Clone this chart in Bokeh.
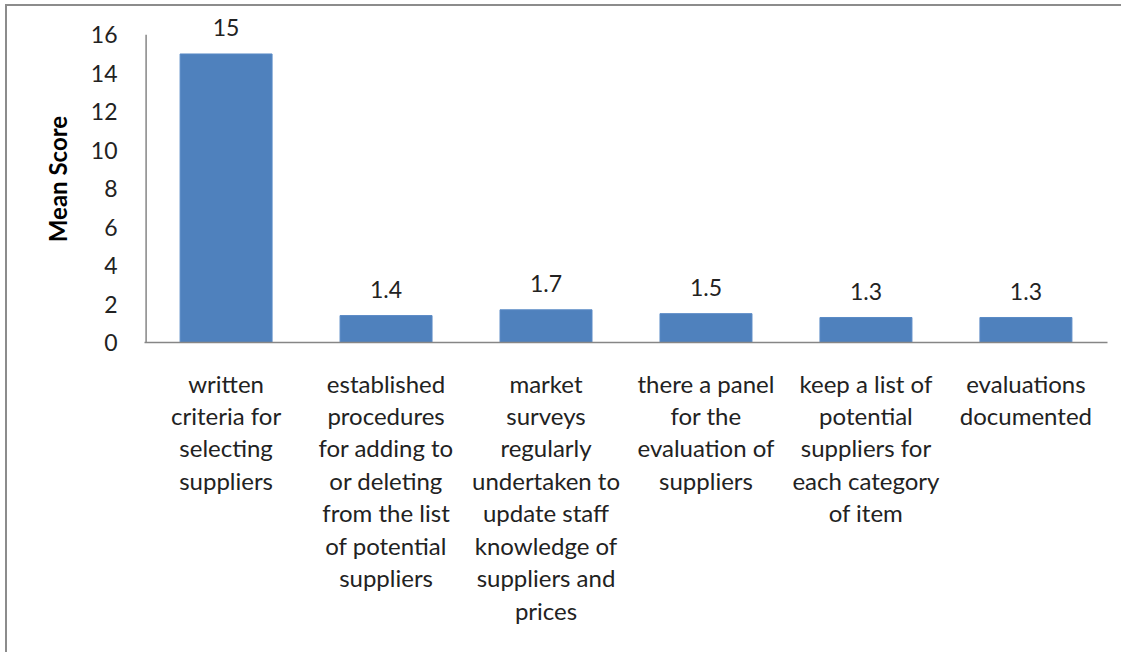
from bokeh.plotting import figure
from bokeh.models import ColumnDataSource, LabelSet, FactorRange, Range1d
from bokeh.core.properties import value
from bokeh.embed import file_html
from bokeh.resources import INLINE

categories = [
    "written\ncriteria for\nselecting\nsuppliers",
    "established\nprocedures\nfor adding to\nor deleting\nfrom the list\nof potential\nsuppliers",
    "market\nsurveys\nregularly\nundertaken to\nupdate staff\nknowledge of\nsuppliers and\nprices",
    "there a panel\nfor the\nevaluation of\nsuppliers",
    "keep a list of\npotential\nsuppliers for\neach category\nof item",
    "evaluations\ndocumented",
]
mean_scores = [15, 1.4, 1.7, 1.5, 1.3, 1.3]
value_labels = ["15", "1.4", "1.7", "1.5", "1.3", "1.3"]
y_ticks = [0, 2, 4, 6, 8, 10, 12, 14, 16]
y_max = 16

FONT = "Lato"
AXIS_GRAY = "#868686"

src = ColumnDataSource(dict(cat=categories, val=mean_scores, lab=value_labels))

# top of the frame a little above 16 so the "15" label is not clipped
TOP = 17.0
px_per_unit = (342 - 34) / 16.0
frame_h = int(round(TOP * px_per_unit))

p = figure(
    width=1116, height=648,
    x_range=FactorRange(factors=categories, range_padding=0.01, range_padding_units="absolute"),
    y_range=Range1d(0, TOP),
    output_backend="svg", toolbar_location=None,
    min_border_left=137, min_border_right=16,
    min_border_top=648 - 312 - frame_h, min_border_bottom=312,
)
p.margin = (4, 0, 0, 5)
p.styles = {"border-top": "2px solid #8c8c8c", "border-left": "2px solid #8c8c8c"}
p.outline_line_color = None
p.grid.visible = False
p.background_fill_color = "white"
p.border_fill_color = "white"

p.vbar(x="cat", top="val", width=0.575, source=src, fill_color="#4F81BD", line_color="#5A8AC6", line_width=1)

# y axis line drawn only from 0 to 16
p.segment(x0=[0], y0=[0], x1=[0], y1=[y_max], line_color=AXIS_GRAY, line_width=1.5)

labels = LabelSet(x="cat", y="val", text="lab", source=src, text_align="center",
                  text_baseline="middle", y_offset=26, text_font=value(FONT),
                  text_font_size="23px", text_color="#222222")
p.add_layout(labels)

p.yaxis.ticker = y_ticks
p.yaxis.axis_line_color = None
p.yaxis.major_tick_line_color = None
p.yaxis.minor_tick_line_color = None
p.yaxis.major_label_standoff = 21
p.yaxis.major_label_text_font = FONT
p.yaxis.major_label_text_font_size = "23px"
p.yaxis.major_label_text_color = "#222222"
p.yaxis.axis_label = "Mean Score"
p.yaxis.axis_label_text_font = FONT
p.yaxis.axis_label_text_font_size = "24px"
p.yaxis.axis_label_text_font_style = "bold"
p.yaxis.axis_label_text_color = "#000000"
p.yaxis.axis_label_standoff = 16

p.xaxis.axis_line_color = AXIS_GRAY
p.xaxis.axis_line_width = 1.5
p.xaxis.major_tick_line_color = None
p.xaxis.minor_tick_line_color = None
p.xaxis.major_label_standoff = 20
p.xaxis.major_label_text_font = FONT
p.xaxis.major_label_text_font_size = "24px"
p.xaxis.major_label_text_color = "#222222"
p.xaxis.major_label_text_line_height = 1.12
p.xaxis.major_label_orientation = "horizontal"

open("out.html", "w").write(file_html(p, INLINE))
